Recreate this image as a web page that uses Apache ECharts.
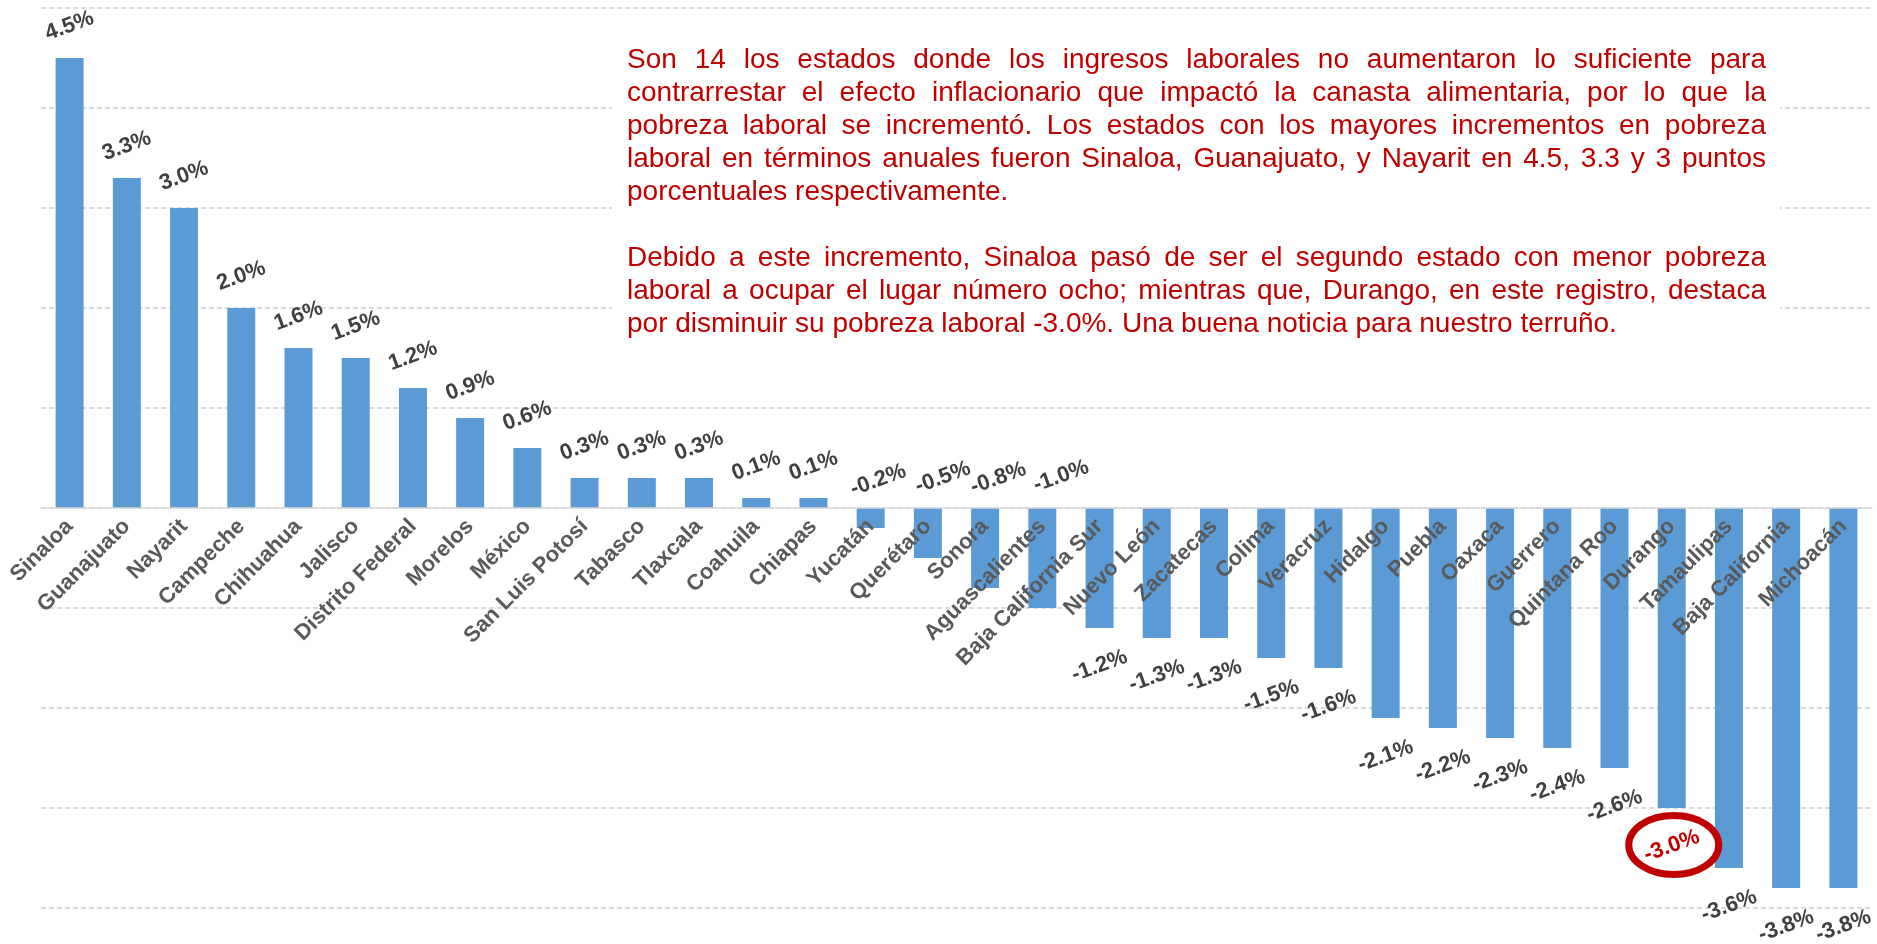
<!DOCTYPE html>
<html>
<head>
<meta charset="utf-8">
<title>Pobreza laboral por estado</title>
<script src="https://cdn.jsdelivr.net/npm/echarts@6/dist/echarts.min.js"></script>
<style>
    html, body { margin: 0; padding: 0; background: #fff; }
    #main { width: 1877px; height: 944px; }
</style>
</head>
<body>
<div id="main"></div>
<script>
// variación anual de la pobreza laboral, puntos porcentuales
var estados = ['Sinaloa', 'Guanajuato', 'Nayarit', 'Campeche', 'Chihuahua', 'Jalisco',
    'Distrito Federal', 'Morelos', 'México', 'San Luis Potosí', 'Tabasco', 'Tlaxcala',
    'Coahuila', 'Chiapas', 'Yucatán', 'Querétaro', 'Sonora', 'Aguascalientes',
    'Baja California Sur', 'Nuevo León', 'Zacatecas', 'Colima', 'Veracruz', 'Hidalgo',
    'Puebla', 'Oaxaca', 'Guerrero', 'Quintana Roo', 'Durango', 'Tamaulipas',
    'Baja California', 'Michoacán'];
var variacion = [4.5, 3.3, 3.0, 2.0, 1.6, 1.5, 1.2, 0.9, 0.6, 0.3, 0.3, 0.3,
    0.1, 0.1, -0.2, -0.5, -0.8, -1.0, -1.2, -1.3, -1.3, -1.5, -1.6, -2.1,
    -2.2, -2.3, -2.4, -2.6, -3.0, -3.6, -3.8, -3.8];
var ejeMin = -4, ejeMax = 5, ejeIntervalo = 1;

var parrafo1 = [
    'Son 14 los estados donde los ingresos laborales no aumentaron lo suficiente para',
    'contrarrestar el efecto inflacionario que impactó la canasta alimentaria, por lo que la',
    'pobreza laboral se incrementó. Los estados con los mayores incrementos en pobreza',
    'laboral en términos anuales fueron Sinaloa, Guanajuato, y Nayarit en 4.5, 3.3 y 3 puntos',
    'porcentuales respectivamente.'
];
var parrafo2 = [
    'Debido a este incremento, Sinaloa pasó de ser el segundo estado con menor pobreza',
    'laboral a ocupar el lugar número ocho; mientras que, Durango, en este registro, destaca',
    'por disminuir su pobreza laboral -3.0%. Una buena noticia para nuestro terruño.'
];

var destacado = 'Durango';
// etiquetas de los negativos chicos van arriba del eje, corridas a la derecha
var corrimiento = {'Yucatán': 8, 'Querétaro': 16, 'Sonora': 14, 'Aguascalientes': 20};

var FUENTE = '"Liberation Sans", Arial, sans-serif';
var ROJO = '#C00000';

function etiqueta(nombre, v) {
    var lab;
    if (corrimiento[nombre] !== undefined) {
        lab = {position: 'top', distance: 25, offset: [corrimiento[nombre], 0]};
    } else if (v >= 0) {
        lab = {position: 'top', distance: 32};
    } else {
        lab = {position: 'bottom', distance: 38};
    }
    if (nombre === destacado) lab.color = ROJO;
    return lab;
}

var datos = estados.map(function (nombre, i) {
    return {value: variacion[i], label: etiqueta(nombre, variacion[i])};
});

// texto justificado, palabra por palabra
function parrafo(lineas, x0, y0, ancho, paso) {
    var ctx = document.createElement('canvas').getContext('2d');
    var font = '28px ' + FUENTE;
    ctx.font = font;
    var espacio = ctx.measureText(' ').width;
    var els = [];
    lineas.forEach(function (linea, k) {
        var palabras = linea.split(' ');
        var anchos = palabras.map(function (p) { return ctx.measureText(p).width; });
        var total = anchos.reduce(function (a, b) { return a + b; }, 0);
        var hueco = espacio;
        if (k < lineas.length - 1 && palabras.length > 1) {
            hueco = (ancho - total) / (palabras.length - 1);
        }
        var x = x0;
        palabras.forEach(function (p, j) {
            els.push({
                type: 'text', x: x, y: y0 + k * paso, z: 10,
                style: {text: p, font: font, fill: ROJO, align: 'left', verticalAlign: 'middle'}
            });
            x += anchos[j] + hueco;
        });
    });
    return els;
}

var dom = document.getElementById('main');
var myChart = echarts.init(dom);

var option = {
    animation: false,
    backgroundColor: '#fff',
    grid: {left: 41, right: 5, top: 8, bottom: 36, containLabel: false, outerBoundsMode: 'none'},
    xAxis: {
        type: 'category',
        data: estados,
        z: 3,
        axisLine: {onZero: false, lineStyle: {color: '#d9d9d9', width: 1.5}},
        axisTick: {show: false},
        axisLabel: {
            interval: 0,
            rotate: 45,
            margin: 15,
            align: 'right',
            verticalAlign: 'middle',
            color: '#595959',
            fontSize: 22,
            fontWeight: 'bold',
            fontFamily: FUENTE
        }
    },
    yAxis: {
        type: 'value',
        min: ejeMin,
        max: ejeMax,
        interval: ejeIntervalo,
        axisLabel: {show: false},
        axisLine: {show: false},
        axisTick: {show: false},
        splitLine: {lineStyle: {color: '#cfcfcf', type: [5, 3], width: 1.5}}
    },
    series: [{
        type: 'bar',
        data: datos,
        barWidth: 28,
        itemStyle: {color: '#5B9BD5'},
        emphasis: {disabled: true},
        label: {
            show: true,
            rotate: 20,
            align: 'center',
            verticalAlign: 'middle',
            color: '#404040',
            fontSize: 22,
            fontWeight: 'bold',
            fontFamily: FUENTE,
            formatter: function (p) { return p.value.toFixed(1) + '%'; }
        }
    }]
};

myChart.setOption(option);

// subir el eje de categorías (línea y etiquetas) hasta el cero
var yCero = myChart.convertToPixel({yAxisIndex: 0}, 0);
var yBase = myChart.convertToPixel({yAxisIndex: 0}, ejeMin);

// fondo blanco del recuadro de texto y el óvalo rojo sobre Durango
var pt = myChart.convertToPixel({xAxisIndex: 0, yAxisIndex: 0}, [destacado, variacion[estados.indexOf(destacado)]]);
var graficos = [{
    type: 'rect', z: 1,
    shape: {x: 612, y: 30, width: 1168, height: 315},
    style: {fill: '#fff'}
}];
graficos = graficos.concat(parrafo(parrafo1, 627, 60, 1139, 33));
graficos = graficos.concat(parrafo(parrafo2, 627, 258, 1139, 33));
graficos.push({
    type: 'ellipse', z: 10,
    shape: {cx: pt[0] + 2, cy: pt[1] + 37, rx: 45, ry: 29.5},
    style: {fill: 'none', stroke: ROJO, lineWidth: 7}
});
myChart.setOption({xAxis: {offset: yCero - yBase}, graphic: graficos});
</script>
</body>
</html>
